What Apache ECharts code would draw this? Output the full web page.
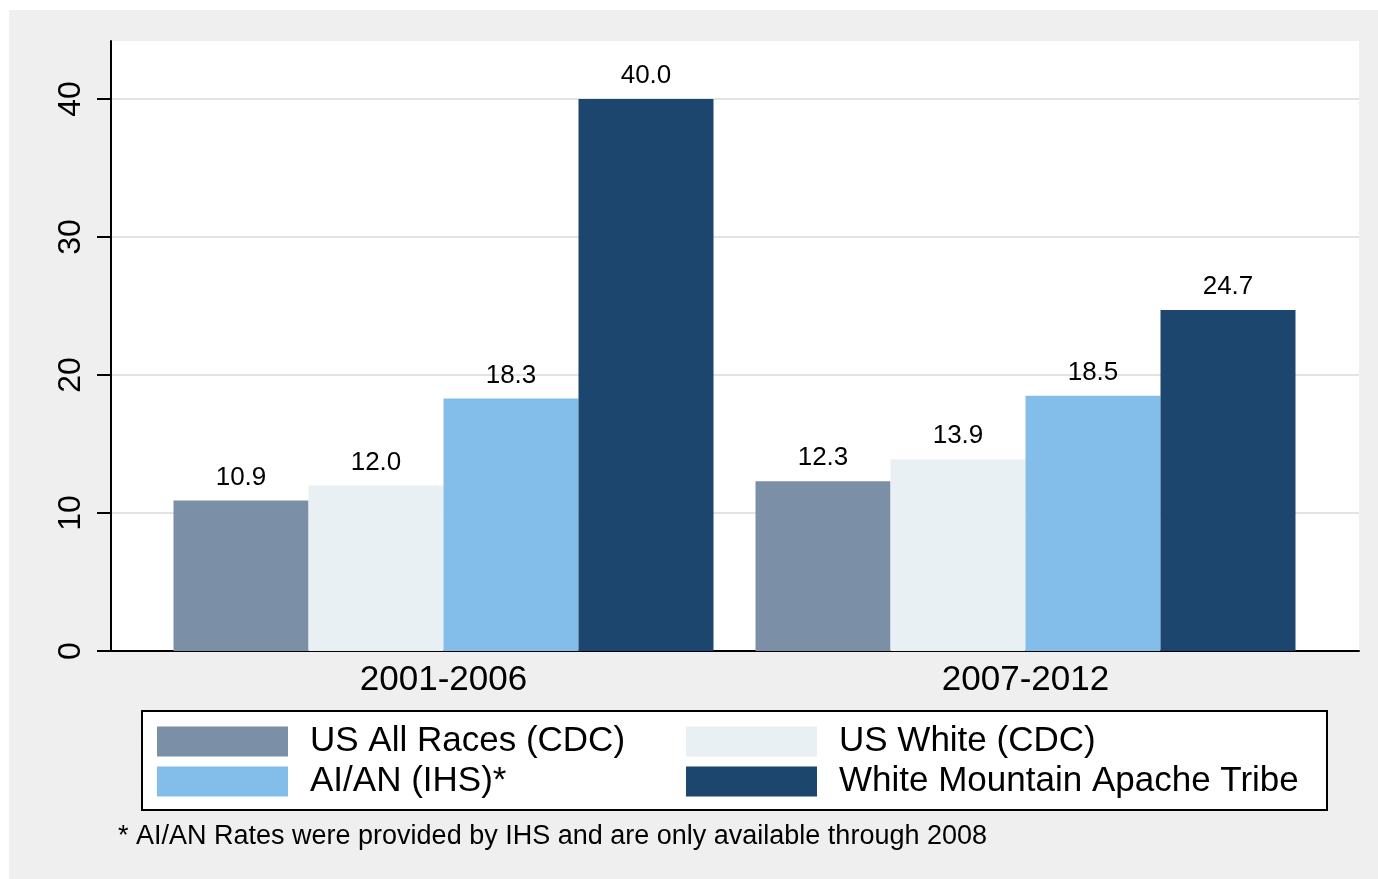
<!DOCTYPE html>
<html>
<head>
<meta charset="utf-8">
<script src="https://cdn.jsdelivr.net/npm/echarts@6/dist/echarts.min.js"></script>
<style>
  html, body { margin: 0; padding: 0; background: #ffffff; }
  #bg { position: absolute; left: 9px; top: 10px; width: 1369px; height: 869px; background: #efefef; }
  #chart { position: absolute; left: 0; top: 0; width: 1378px; height: 879px; }
</style>
</head>
<body>
<div id="bg"></div>
<div id="chart"></div>
<script>
const categories = ['2001-2006', '2007-2012'];
const seriesNames = ['US All Races (CDC)', 'US White (CDC)', 'AI/AN (IHS)*', 'White Mountain Apache Tribe'];
const usAllRaces = [10.9, 12.3];
const usWhite = [12.0, 13.9];
const aian = [18.3, 18.5];
const whiteMountain = [40.0, 24.7];
const yTicks = [0, 10, 20, 30, 40];
const footnote = '* AI/AN Rates were provided by IHS and are only available through 2008';

const colors = ['#7b90a7', '#e8f0f3', '#82bee9', '#1c466d'];
const seriesValues = [usAllRaces, usWhite, aian, whiteMountain];
const FONT = '"Liberation Sans", Arial, sans-serif';
const YMAX = 44.2;

const chart = echarts.init(document.getElementById('chart'), null, { renderer: 'canvas' });

const option = {
  backgroundColor: 'transparent',
  animation: false,
  textStyle: { fontFamily: FONT },
  grid: [
    { left: 111, right: 19, top: 41, bottom: 228, show: true, backgroundColor: '#ffffff', borderWidth: 0 },
    { left: 152.5, right: 61.5, top: 41, bottom: 228 }
  ],
  xAxis: [
    { gridIndex: 0, type: 'value', min: 0, max: 1,
      axisLine: { show: true, onZero: false, lineStyle: { color: '#000', width: 2 } },
      axisTick: { show: false }, axisLabel: { show: false }, splitLine: { show: false } },
    { gridIndex: 1, type: 'category', data: categories,
      axisLine: { show: false }, axisTick: { show: false },
      axisLabel: { fontSize: 35, color: '#000', margin: 12, fontFamily: FONT } }
  ],
  yAxis: [
    { gridIndex: 0, type: 'value', min: 0, max: YMAX, interval: 10,
      axisLine: { show: true, lineStyle: { color: '#000', width: 2 } },
      axisTick: { show: true, length: 14, customValues: yTicks, lineStyle: { color: '#000', width: 2 } },
      axisLabel: { rotate: 90, fontSize: 32, color: '#000', margin: 24, customValues: yTicks, fontFamily: FONT },
      splitLine: { show: true, showMinLine: false, lineStyle: { color: '#e3e3e3', width: 2 } } },
    { gridIndex: 1, type: 'value', min: 0, max: YMAX, show: false,
      splitLine: { show: false } }
  ],
  legend: [
    { orient: 'vertical', left: 157, top: 724, padding: 0, itemWidth: 131, itemHeight: 30, itemGap: 5,
      icon: 'rect', data: [seriesNames[0], seriesNames[2]], selectedMode: false,
      textStyle: { fontSize: 35, color: '#000', lineHeight: 30, padding: [0, 0, 0, 17], fontFamily: FONT } },
    { orient: 'vertical', left: 686, top: 724, padding: 0, itemWidth: 131, itemHeight: 30, itemGap: 5,
      icon: 'rect', data: [seriesNames[1], seriesNames[3]], selectedMode: false,
      textStyle: { fontSize: 35, color: '#000', lineHeight: 30, padding: [0, 0, 0, 17], fontFamily: FONT } }
  ],
  graphic: [
    { type: 'rect', z: -1, shape: { x: 142, y: 711, width: 1185, height: 99 },
      style: { fill: '#ffffff', stroke: '#000000', lineWidth: 2 } },
    { type: 'text', left: 118, top: 823, style: { text: footnote, fontSize: 27, fill: '#000', fontFamily: FONT } }
  ],
  series: seriesNames.map((name, i) => ({
    name: name,
    type: 'bar',
    xAxisIndex: 1,
    yAxisIndex: 1,
    data: seriesValues[i],
    barWidth: 135,
    barGap: '0%',
    itemStyle: { color: colors[i] },
    label: { show: true, position: 'top', distance: 10, fontSize: 26, color: '#000', fontFamily: FONT,
             formatter: p => p.value.toFixed(1) }
  }))
};

chart.setOption(option);
</script>
</body>
</html>
